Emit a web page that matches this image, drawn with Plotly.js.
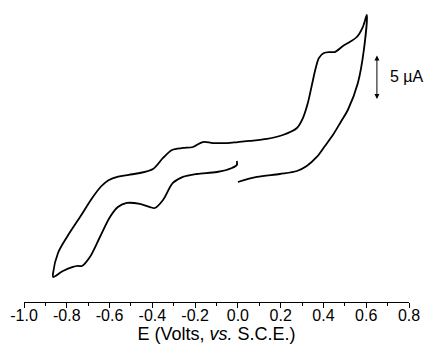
<!DOCTYPE html>
<html>
<head>
<meta charset="utf-8">
<script src="https://cdn.plot.ly/plotly-3.0.1.min.js"></script>
<style>html,body{margin:0;padding:0;background:#fff;}#chart{width:424px;height:359px;}</style>
</head>
<body>
<div id="chart"></div>
<script>
// Segment 1: from 0.0 V scanning positive (lower right branch) up to 0.6 V
const E_seg1 = [0.000, 0.089, 0.196, 0.276, 0.322, 0.369, 0.407, 0.444, 0.481, 0.514, 0.561, 0.589, 0.603];
const I_seg1 = [12.00, 12.56, 12.89, 13.22, 13.78, 14.78, 16.00, 17.22, 18.67, 20.00, 23.00, 26.67, 30.56];
// Segment 2: from 0.6 V back to -0.86 V (upper branch)
const E_seg2 = [0.584, 0.556, 0.523, 0.491, 0.453, 0.430, 0.402, 0.379, 0.364, 0.346, 0.327, 0.304, 0.276, 0.210, 0.136, 0.056, 0.000, -0.051, -0.117, -0.164, -0.210, -0.257, -0.308, -0.350, -0.397, -0.458, -0.510, -0.560, -0.605, -0.640, -0.678, -0.738, -0.799, -0.841, -0.864];
const I_seg2 = [29.22, 28.11, 27.56, 27.11, 26.44, 26.44, 26.33, 25.78, 24.67, 22.78, 20.78, 19.11, 18.00, 17.22, 16.78, 16.56, 16.44, 16.33, 16.33, 16.44, 15.89, 15.78, 15.56, 14.67, 13.44, 13.00, 12.80, 12.60, 12.20, 11.50, 10.33, 8.11, 5.89, 4.11, 1.89];
// Segment 3: from -0.86 V back to 0.0 V (lower left branch)
const E_seg3 = [-0.864, -0.818, -0.771, -0.748, -0.729, -0.692, -0.645, -0.598, -0.561, -0.519, -0.458, -0.411, -0.388, -0.350, -0.304, -0.257, -0.192, -0.098, -0.028, -0.005, -0.005];
const I_seg3 = [1.44, 2.11, 2.56, 2.67, 2.67, 3.67, 5.89, 8.11, 9.22, 9.67, 9.56, 9.22, 9.11, 10.00, 11.89, 12.56, 12.89, 13.11, 13.56, 13.89, 14.33];

const tickVals = [-1.0, -0.8, -0.6, -0.4, -0.2, 0.0, 0.2, 0.4, 0.6, 0.8];
const tickText = ["-1.0", "-0.8", "-0.6", "-0.4", "-0.2", "0.0", "0.2", "0.4", "0.6", "0.8"];

const scaleBarE = 0.65;
const scaleBarI = [21.22, 26.22];
const scaleBarLabel = "5 \u00b5A";

const E_all = E_seg1.concat(E_seg2, E_seg3);
const I_all = I_seg1.concat(I_seg2, I_seg3);

const trace = {
  x: E_all, y: I_all, type: 'scatter', mode: 'lines',
  line: {color: '#000', width: 1.8, shape: 'spline', smoothing: 0.9},
  hoverinfo: 'skip'
};

const layout = {
  width: 424, height: 359,
  margin: {l: 24, r: 15, t: 5, b: 57},
  paper_bgcolor: '#fff', plot_bgcolor: '#fff',
  showlegend: false,
  font: {family: 'Liberation Sans, Arial, sans-serif', color: '#000'},
  xaxis: {
    range: [-1.0, 0.8], tickvals: tickVals, ticktext: tickText,
    ticks: 'outside', ticklen: 4.5, tickwidth: 1, tickcolor: '#000',
    showline: true, linecolor: '#000', linewidth: 1,
    showgrid: false, zeroline: false,
    tickfont: {size: 16, color: '#000'},
    ticklabelstandoff: -6,
    minor: {dtick: 0.1, tick0: 0, ticks: 'outside', ticklen: 2.5, tickwidth: 1, tickcolor: '#000', showgrid: false},
    title: {text: 'E (Volts, <i>vs.</i> S.C.E.)', font: {size: 18, color: '#000'}, standoff: 0}
  },
  yaxis: {range: [-1.333, 31.667], visible: false, showgrid: false, zeroline: false},
  annotations: [
    {x: scaleBarE, y: scaleBarI[0], ax: scaleBarE, ay: scaleBarI[1], axref: 'x', ayref: 'y', xref: 'x', yref: 'y',
     showarrow: true, arrowhead: 2, arrowside: 'end+start', arrowsize: 1, arrowwidth: 1, arrowcolor: '#000', text: '', standoff: 0, startstandoff: 0},
    {x: 0.70, y: (scaleBarI[0] + scaleBarI[1]) / 2, xref: 'x', yref: 'y', xanchor: 'left', yanchor: 'middle',
     showarrow: false, text: scaleBarLabel, font: {size: 16, color: '#000'}}
  ]
};

Plotly.newPlot('chart', [trace], layout, {staticPlot: true, displayModeBar: false});
</script>
</body>
</html>
